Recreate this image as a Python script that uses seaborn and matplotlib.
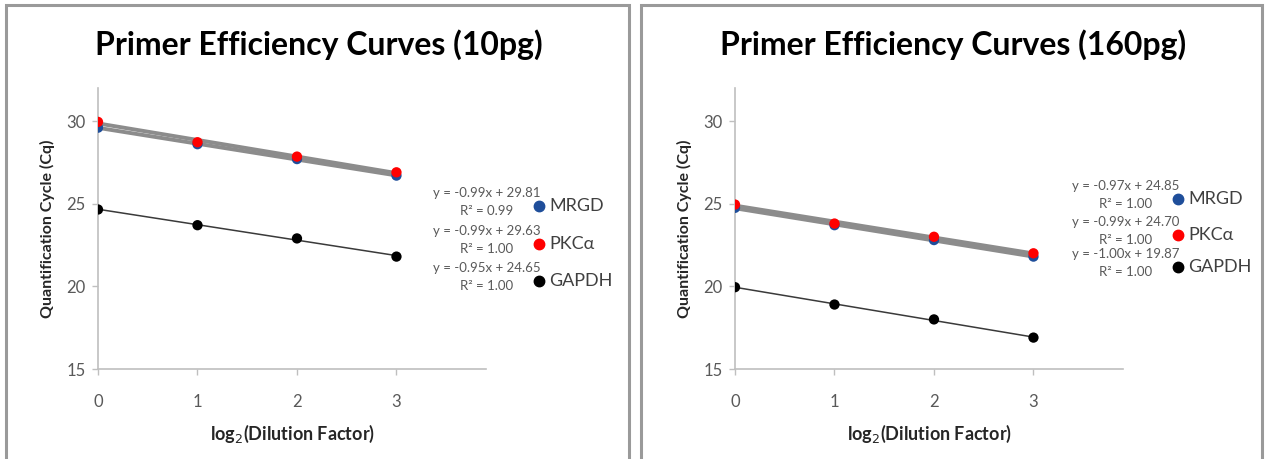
import numpy as np
import pandas as pd
import matplotlib
matplotlib.use('Agg')
import matplotlib.pyplot as plt
from matplotlib.patches import Rectangle
from matplotlib.lines import Line2D
import seaborn as sns

# ---- data ----
dilution = [0, 1, 2, 3]
genes = ["MRGD", "PKCα", "GAPDH"]
gene_colors = ["#1f4e9a", "#ff0000", "#000000"]

cq_10pg_mrgd = [29.6, 28.6, 27.7, 26.7]
cq_10pg_pkc = [29.95, 28.72, 27.85, 26.9]
cq_10pg_gapdh = [24.65, 23.7, 22.9, 21.8]

cq_160pg_mrgd = [24.75, 23.7, 22.8, 21.8]
cq_160pg_pkc = [24.95, 23.8, 23.0, 22.0]
cq_160pg_gapdh = [19.95, 18.9, 18.0, 16.9]

eq_10pg = ["y = -0.99x + 29.81", "y = -0.99x + 29.63", "y = -0.95x + 24.65"]
r2_10pg = ["R² = 0.99", "R² = 1.00", "R² = 1.00"]
eq_160pg = ["y = -0.97x + 24.85", "y = -0.99x + 24.70", "y = -1.00x + 19.87"]
r2_160pg = ["R² = 1.00", "R² = 1.00", "R² = 1.00"]

titles = ["Primer Efficiency Curves (10pg)", "Primer Efficiency Curves (160pg)"]
y_ticks = [15, 20, 25, 30]

W, H = 1265, 459

sns.set_theme(style="white")
plt.rcParams['font.family'] = ['Lato', 'DejaVu Sans']

fig = plt.figure(figsize=(W / 100, H / 100), dpi=100)


def px(x, y):
    """pixel position (top-left origin) -> figure fraction"""
    return x / W, 1 - y / H


def draw_panel(frame_x0, frame_x1, ax_left, title, title_x, series, eqs, r2s, leg_x, leg_rows):
    # grey frame around the chart object
    x0, _ = px(frame_x0, 0)
    x1, _ = px(frame_x1, 0)
    fig.add_artist(Rectangle((x0, -0.05), x1 - x0, 1.05 - 5 / H, transform=fig.transFigure,
                             fill=False, edgecolor="#9a9a9a", linewidth=2.2))

    l, b = px(ax_left, 369)
    _, t = px(ax_left, 88)
    ax = fig.add_axes([l, b, 388 / W, t - b])

    df = pd.DataFrame({"x": dilution * 3,
                       "cq": sum(series, []),
                       "gene": sum([[g] * len(dilution) for g in genes], [])})

    # trendlines
    for gene in genes:
        sub = df[df.gene == gene]
        if gene == "GAPDH":
            kw = dict(color="#3a3a3a", lw=1.1, zorder=2)
        else:
            kw = dict(color="#8c8c8c", lw=2.8, zorder=2)
        sns.regplot(data=sub, x="x", y="cq", ax=ax, ci=None, scatter=False, line_kws=kw)

    sns.scatterplot(data=df, x="x", y="cq", hue="gene", palette=gene_colors,
                    hue_order=genes, s=55, edgecolor="none", ax=ax, legend=False, zorder=3)

    ax.set_xlim(0, 3.9)
    ax.set_ylim(15, 32)
    ax.set_xticks(dilution)
    ax.set_yticks(y_ticks)
    ax.tick_params(axis="both", colors="#bfbfbf", labelcolor="#595959", labelsize=12,
                   length=4, width=1, direction="out", left=True, bottom=True, pad=5)
    ax.tick_params(axis="x", pad=14)
    for s in ["top", "right"]:
        ax.spines[s].set_visible(False)
    for s in ["left", "bottom"]:
        ax.spines[s].set_color("#bfbfbf")
        ax.spines[s].set_linewidth(1.2)

    ax.set_xlabel("log$_2$(Dilution Factor)", fontsize=13, fontweight="bold", color="#262626", labelpad=9)
    ax.set_ylabel("Quantification Cycle (Cq)", fontsize=11.5, fontweight="bold", color="#262626", labelpad=8)

    tx, ty = px(title_x, 45)
    fig.text(tx, ty, title, ha="center", va="center", fontsize=23, fontweight="bold", color="#000000")

    # legend with trendline equations
    for i, (gene, col) in enumerate(zip(genes, gene_colors)):
        row_y = leg_rows[i]
        mx, my = px(leg_x, row_y)
        fig.add_artist(Line2D([mx], [my], marker="o", markersize=7.5, color=col,
                              linestyle="none", transform=fig.transFigure))
        lx, ly = px(leg_x + 10, row_y)
        fig.text(lx, ly, gene, ha="left", va="center", fontsize=13, color="#404040")
        ex, ey = px(leg_x - 52, row_y - 13)
        fig.text(ex, ey, eqs[i], ha="center", va="center", fontsize=9.5, color="#595959")
        rx, ry = px(leg_x - 52, row_y + 5)
        fig.text(rx, ry, r2s[i], ha="center", va="center", fontsize=9.5, color="#595959")
    return ax


draw_panel(6, 629, 98, titles[0], 319,
           [cq_10pg_mrgd, cq_10pg_pkc, cq_10pg_gapdh], eq_10pg, r2_10pg,
           539, [206, 244, 281])
draw_panel(641, 1262, 735, titles[1], 953,
           [cq_160pg_mrgd, cq_160pg_pkc, cq_160pg_gapdh], eq_160pg, r2_160pg,
           1178, [199, 235, 267])

fig.savefig("out.png", dpi=100)
